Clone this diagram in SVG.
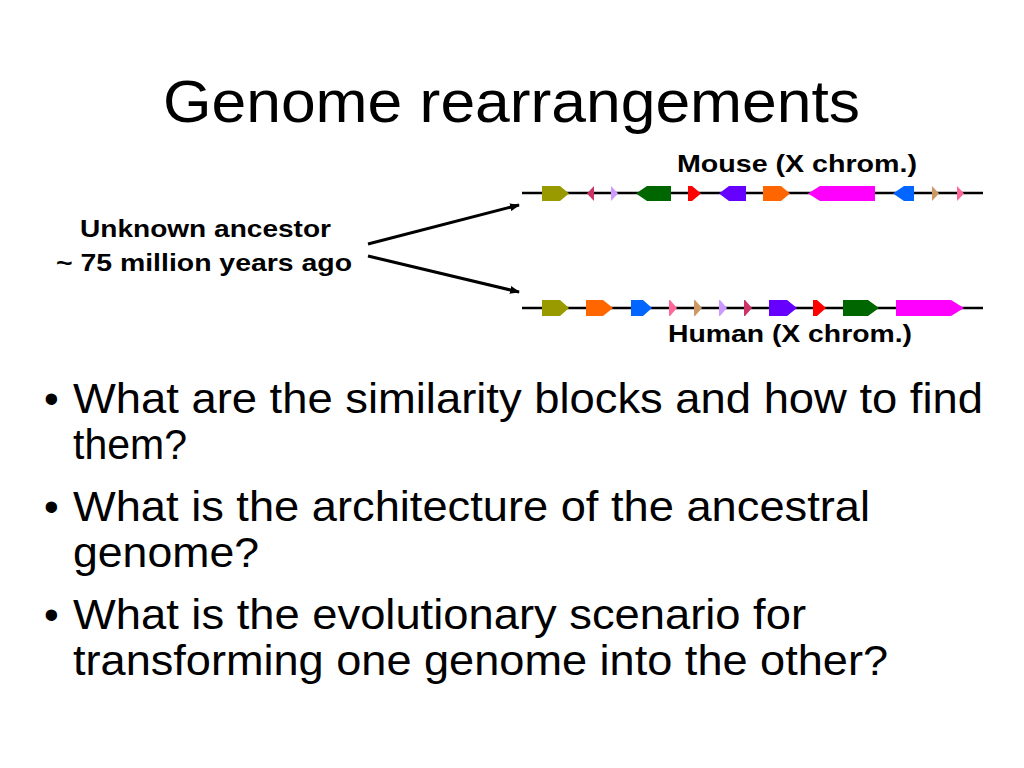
<svg xmlns="http://www.w3.org/2000/svg" width="1024" height="768" viewBox="0 0 1024 768">
<style>
text{font-family:"Liberation Sans",Arial,sans-serif;fill:#000}
.b{font-weight:bold;font-size:24px}
.q{font-size:42px}
.ln{stroke:#000;stroke-width:2.5}
</style>
<defs><marker id="ah" markerWidth="10" markerHeight="8" refX="9" refY="4" orient="auto" markerUnits="userSpaceOnUse"><path d="M0,0L10,4L0,8z" fill="#000"/></marker></defs>
<rect width="1024" height="768" fill="#fff"/>
<text x="163" y="122" font-size="60" textLength="697" lengthAdjust="spacingAndGlyphs">Genome rearrangements</text>
<g id="mouse">
<text class="b" x="677" y="172" textLength="240" lengthAdjust="spacingAndGlyphs">Mouse (X chrom.)</text>
<line class="ln" x1="522" y1="193" x2="983" y2="193"/>
<path d="M542,186H560L569,193.5L560,201H542Z" fill="#999900"/>
<path d="M594,186V201L587,193.5Z" fill="#cc3366"/>
<path d="M611,186V201L618,193.5Z" fill="#cc99ff"/>
<path d="M671,186H647L636,193.5L647,201H671Z" fill="#006600"/>
<path d="M688,186H692L701,193.5L692,201H688Z" fill="#ff0000"/>
<path d="M746,186H729L719,193.5L729,201H746Z" fill="#6600ff"/>
<path d="M763,186H781L790,193.5L781,201H763Z" fill="#ff6600"/>
<path d="M875,186H820L808,193.5L820,201H875Z" fill="#ff00ff"/>
<path d="M914,186H904L893,193.5L904,201H914Z" fill="#0066ff"/>
<path d="M932,186V201L939,193.5Z" fill="#cc9966"/>
<path d="M957,186V201L964,193.5Z" fill="#ff6699"/>
</g>
<g id="human">
<text class="b" x="668" y="342" textLength="244" lengthAdjust="spacingAndGlyphs">Human (X chrom.)</text>
<line class="ln" x1="522" y1="308" x2="983" y2="308"/>
<path d="M542,300H560L569,308L560,316H542Z" fill="#999900"/>
<path d="M586,300H603L613,308L603,316H586Z" fill="#ff6600"/>
<path d="M631,300H643L652,308L643,316H631Z" fill="#0066ff"/>
<path d="M669,300H670L677,308L670,316H669Z" fill="#ff6699"/>
<path d="M694,300H695L702,308L695,316H694Z" fill="#cc9966"/>
<path d="M719,300H720L727,308L720,316H719Z" fill="#cc99ff"/>
<path d="M744,300H745L752,308L745,316H744Z" fill="#cc3366"/>
<path d="M769,300H787L797,308L787,316H769Z" fill="#6600ff"/>
<path d="M813,300H817L826,308L817,316H813Z" fill="#ff0000"/>
<path d="M843,300H868L879,308L868,316H843Z" fill="#006600"/>
<path d="M896,300H951L964,308L951,316H896Z" fill="#ff00ff"/>
</g>
<g id="ancestor">
<text class="b" x="80" y="237" textLength="251" lengthAdjust="spacingAndGlyphs">Unknown ancestor</text>
<text class="b" x="56" y="271" textLength="296" lengthAdjust="spacingAndGlyphs">~ 75 million years ago</text>
</g>
<g id="connectors" stroke="#000" stroke-width="3">
<line x1="368" y1="244" x2="519" y2="205" marker-end="url(#ah)"/>
<line x1="368" y1="256" x2="519" y2="292" marker-end="url(#ah)"/>
</g>
<g id="bullets">
<text class="q" x="44" y="413">•</text>
<text class="q" x="73" y="413" textLength="910" lengthAdjust="spacingAndGlyphs">What are the similarity blocks and how to find</text>
<text class="q" x="73" y="459" textLength="114" lengthAdjust="spacingAndGlyphs">them?</text>
<text class="q" x="44" y="521">•</text>
<text class="q" x="73" y="521" textLength="797" lengthAdjust="spacingAndGlyphs">What is the architecture of the ancestral</text>
<text class="q" x="73" y="567" textLength="186" lengthAdjust="spacingAndGlyphs">genome?</text>
<text class="q" x="44" y="629">•</text>
<text class="q" x="73" y="629" textLength="733" lengthAdjust="spacingAndGlyphs">What is the evolutionary scenario for</text>
<text class="q" x="73" y="675" textLength="815" lengthAdjust="spacingAndGlyphs">transforming one genome into the other?</text>
</g>
</svg>
